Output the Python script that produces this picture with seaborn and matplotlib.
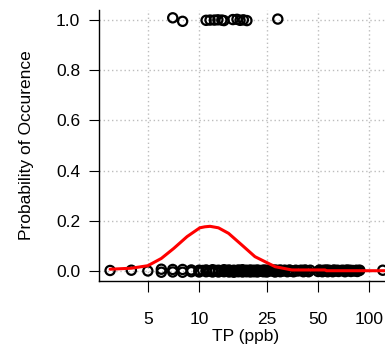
import matplotlib
matplotlib.use("Agg")
import matplotlib.pyplot as plt
import matplotlib.ticker as mticker
import seaborn as sns
import pandas as pd

# Observations: total phosphorus (ppb) and presence (1) / absence (0)
tp_present = [7, 8, 11, 11.6, 12.3, 12.9, 13.6, 14, 15.8, 16.7, 17.4, 18.2, 19.1, 29]
y_present = [1.009, 0.995, 0.999, 1.0, 1.0, 1.001, 1.0, 0.998, 1.002, 1.003, 0.999, 1.001, 0.998, 1.004]

tp_absent = [3, 4, 5, 6, 6, 7, 7, 8, 8, 9, 9, 10, 10, 10, 10.5, 11, 11, 11.5, 12, 12, 12,
             12.5, 13, 13, 13.5, 14, 14, 14, 14.5, 15, 15, 15.5, 16, 16, 16.5, 17, 17, 17,
             17.5, 18, 18, 18.5, 19, 19, 19.5, 20, 20, 20.5, 21, 21, 21.5, 22, 22, 22.5,
             23, 23.5, 24, 24, 24.5, 25, 25, 25.5, 26, 26.5, 27, 27.5, 28, 28, 28.5, 29,
             30, 30, 31, 31.5, 32, 33, 33.5, 34, 35, 35.5, 36, 37, 38, 39, 40, 41, 42,
             43, 44, 45, 50, 51, 52, 53, 54, 55, 56, 57, 58, 60, 61, 62, 64, 65, 66,
             68, 70, 71, 72, 74, 75, 77, 78, 80, 82, 84, 85, 87, 88, 120]
y_absent = [0.002, 0.003, 0.0, 0.007, -0.005, 0.006, -0.004, 0.006, -0.005, 0.004, -0.003,
            0.003, -0.004, 0.0, 0.002, 0.004, -0.003, 0.0, 0.005, -0.004, 0.0,
            0.002, 0.003, -0.004, 0.0, 0.005, -0.003, 0.0, 0.002, 0.004, -0.004, 0.0,
            0.003, -0.005, 0.001, 0.004, -0.003, 0.0, 0.002, 0.005, -0.004, 0.0,
            0.003, -0.003, 0.001, 0.004, -0.004, 0.0, 0.003, -0.003, 0.001, 0.004,
            -0.004, 0.0, 0.002, -0.002, 0.004, -0.003, 0.0, 0.003, -0.004, 0.001,
            0.0, 0.004, 0.003, -0.002, 0.004, -0.004, 0.0, 0.002,
            0.004, -0.003, 0.0, 0.002, 0.003, -0.003, 0.001, 0.004, 0.0, -0.002,
            -0.003, 0.003, 0.0, 0.002, 0.003, -0.003, 0.004, 0.0, -0.003, 0.003,
            -0.002, 0.004, 0.0, -0.003, 0.003, 0.0, 0.004, -0.003, 0.003, 0.0,
            -0.003, 0.004, 0.0, 0.003, -0.002, 0.002, 0.003, 0.0, -0.003, 0.004,
            0.001, 0.003, -0.002, 0.002, 0.0, 0.003, -0.002, 0.002, 0.003, 0.003]

# Fitted probability of occurrence along the TP gradient
tp_fit = [3.0, 4.0, 5.0, 6.0, 7.1, 8.5, 10.1, 10.8, 11.6, 13.0, 14.9, 17.8,
          21.3, 24.4, 28.0, 35.1, 55.0, 56.0, 140.0]
prob_fit = [0.007, 0.011, 0.021, 0.05, 0.09, 0.137, 0.172, 0.176, 0.178, 0.172,
            0.15, 0.104, 0.057, 0.037, 0.017, 0.004, 0.004, 0.001, 0.001]

x_ticks = [5, 10, 25, 50, 100]
y_ticks = [0.0, 0.2, 0.4, 0.6, 0.8, 1.0]

obs = pd.DataFrame({"tp": tp_present + tp_absent, "occ": y_present + y_absent})
fit = pd.DataFrame({"tp": tp_fit, "prob": prob_fit})

sns.set_style("white")
plt.rcParams["font.family"] = ["Liberation Sans", "DejaVu Sans"]

fig = plt.figure(figsize=(3.85, 3.51), dpi=100)
ax = fig.add_axes([0.257, 0.1994, 0.764, 0.772])
ax.set_xscale("log")

ax.grid(True, color="#bdbdbd", linestyle=(0, (1, 2)), linewidth=1.0)
ax.set_axisbelow(True)

sns.scatterplot(data=obs, x="tp", y="occ", ax=ax, marker="o", s=44,
                facecolor="none", edgecolor="black", linewidth=1.6, zorder=3)
sns.lineplot(data=fit, x="tp", y="prob", ax=ax, color="#ff0000",
             linewidth=2.2, zorder=4)

ax.set_xlim(2.58, 138)
ax.set_ylim(-0.04, 1.04)
ax.xaxis.set_major_locator(mticker.FixedLocator(x_ticks))
ax.xaxis.set_major_formatter(mticker.FixedFormatter([str(v) for v in x_ticks]))
ax.xaxis.set_minor_locator(mticker.NullLocator())
ax.set_yticks(y_ticks)
ax.set_yticklabels([f"{v:.1f}" for v in y_ticks])

for side in ("top", "right"):
    ax.spines[side].set_visible(False)
for side in ("left", "bottom"):
    ax.spines[side].set_color("black")
    ax.spines[side].set_linewidth(1.0)

ax.tick_params(axis="x", bottom=True, direction="out", length=8, width=0.8,
               pad=14, labelsize=12.5, colors="black")
ax.tick_params(axis="y", left=True, direction="out", length=7.5, width=0.8,
               pad=6, labelsize=12.5, colors="black")

ax.set_xlabel("TP (ppb)", fontsize=12.5, labelpad=2, color="black")
ax.set_ylabel("Probability of Occurence", fontsize=12.5, labelpad=16, color="black")

fig.savefig("out.png", dpi=100)
